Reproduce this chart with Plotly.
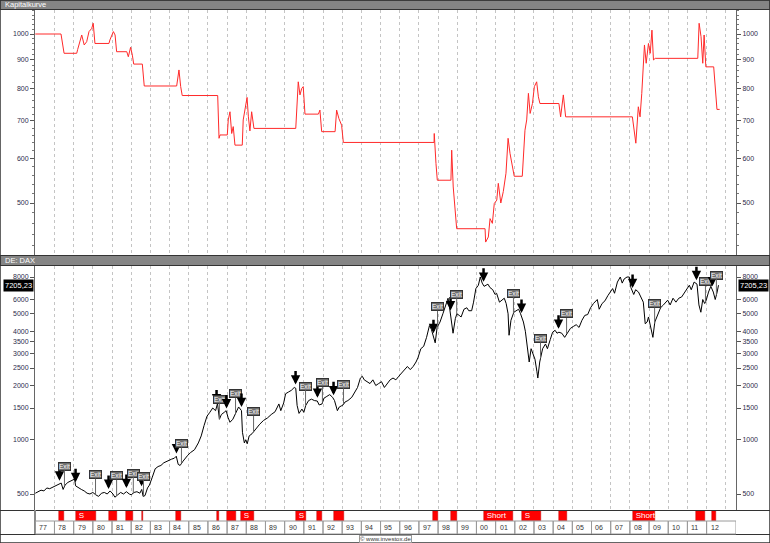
import numpy as np
import plotly.graph_objects as go

W, H = 770, 543

# ---------------- data ----------------
eq_t = [1977.00, 1978.34, 1978.50, 1979.16, 1979.21, 1979.42, 1979.55, 1979.68, 1979.80, 1979.94,
        1980.02, 1980.11, 1980.84, 1980.89, 1981.07, 1981.16, 1981.24, 1981.77, 1981.85, 1981.97,
        1982.06, 1982.13, 1982.58, 1982.68, 1984.37, 1984.49, 1984.58, 1984.66, 1986.51, 1986.58,
        1986.63, 1987.01, 1987.06, 1987.15, 1987.24, 1987.32, 1987.41, 1987.79, 1987.84, 1987.97,
        1988.04, 1988.11, 1988.19, 1988.28, 1988.40, 1990.58, 1990.64, 1990.71, 1990.80, 1990.89,
        1990.97, 1991.06, 1991.76, 1991.84, 1991.93, 1992.63, 1992.71, 1992.83, 1992.97, 1993.06,
        1997.79, 1997.80, 1997.89, 1997.96, 1998.67, 1998.71, 1998.79, 1998.88, 1998.97, 2000.45,
        2000.48, 2000.62, 2000.71, 2000.83, 2000.93, 2001.06, 2001.14, 2001.27, 2001.40, 2001.54,
        2001.65, 2001.75, 2001.87, 2001.97, 2002.39, 2002.44, 2002.53, 2002.62, 2002.71, 2002.80,
        2002.92, 2003.02, 2003.14, 2003.23, 2003.31, 2004.30, 2004.39, 2004.53, 2004.65, 2008.13,
        2008.18, 2008.31, 2008.44, 2008.53, 2008.62, 2008.76, 2008.85, 2008.97, 2009.06, 2009.15,
        2009.23, 2009.32, 2011.54, 2011.61, 2011.71, 2011.80, 2011.87, 2011.96, 2012.37, 2012.44,
        2012.54, 2012.68]
eq_v = [1000, 1000, 924, 924, 939, 996, 956, 969, 1010, 1023,
        1045, 962, 962, 976, 1010, 996, 930, 930, 911, 947,
        917, 884, 884, 808, 808, 863, 806, 777, 777, 652,
        661, 661, 703, 727, 665, 684, 634, 634, 703, 742,
        771, 712, 672, 727, 679, 679, 732, 822, 779, 800,
        806, 720, 720, 732, 670, 670, 732, 707, 688, 641,
        641, 665, 588, 549, 549, 621, 534, 479, 450, 450,
        426, 435, 469, 460, 499, 506, 542, 500, 524, 565,
        652, 613, 580, 558, 558, 605, 674, 703, 784, 722,
        752, 806, 822, 773, 752, 752, 712, 779, 712, 712,
        693, 639, 742, 712, 784, 956, 887, 962, 924, 1016,
        899, 905, 905, 1045, 989, 887, 996, 874, 874, 806,
        734, 734]

dax_t = [1977.00, 1977.15, 1977.30, 1977.45, 1977.60, 1977.75, 1977.90,
         1978.05, 1978.20, 1978.35, 1978.45, 1978.55, 1978.70, 1978.85, 1978.95,
         1979.05, 1979.10, 1979.25, 1979.40, 1979.55, 1979.70, 1979.85,
         1980.00, 1980.15, 1980.30, 1980.45, 1980.60, 1980.75, 1980.90,
         1981.05, 1981.15, 1981.30, 1981.45, 1981.60, 1981.75, 1981.90,
         1982.00, 1982.15, 1982.30, 1982.45, 1982.55, 1982.62, 1982.72, 1982.85, 1982.95,
         1983.10, 1983.25, 1983.40, 1983.55, 1983.70, 1983.85, 1983.95,
         1984.10, 1984.25, 1984.35, 1984.45, 1984.55, 1984.70, 1984.85, 1984.95,
         1985.10, 1985.30, 1985.50, 1985.65, 1985.80, 1985.95,
         1986.10, 1986.25, 1986.40, 1986.50, 1986.60, 1986.70, 1986.85, 1986.95,
         1987.05, 1987.15, 1987.30, 1987.45, 1987.60, 1987.75, 1987.80, 1987.90, 1987.97,
         1988.05, 1988.15, 1988.30, 1988.50, 1988.70, 1988.90,
         1989.10, 1989.30, 1989.50, 1989.70, 1989.80, 1989.95,
         1990.05, 1990.20, 1990.35, 1990.50, 1990.58, 1990.65, 1990.75, 1990.90,
         1991.00, 1991.10, 1991.25, 1991.40, 1991.55, 1991.70, 1991.80, 1991.95,
         1992.05, 1992.20, 1992.35, 1992.50, 1992.60, 1992.75, 1992.85, 1992.95,
         1993.05, 1993.15, 1993.30, 1993.50, 1993.65, 1993.80, 1993.95,
         1994.05, 1994.15, 1994.30, 1994.45, 1994.60, 1994.75, 1994.90,
         1995.05, 1995.20, 1995.35, 1995.50, 1995.65, 1995.80, 1995.95,
         1996.10, 1996.25, 1996.40, 1996.55, 1996.70, 1996.85, 1996.95,
         1997.10, 1997.25, 1997.40, 1997.55, 1997.65, 1997.80, 1997.85, 1997.95,
         1998.10, 1998.25, 1998.40, 1998.52, 1998.60, 1998.70, 1998.78, 1998.90, 1998.98,
         1999.10, 1999.20, 1999.35, 1999.50, 1999.60, 1999.75, 1999.85, 1999.97,
         2000.10, 2000.20, 2000.30, 2000.40, 2000.50, 2000.60, 2000.70, 2000.85, 2000.97,
         2001.05, 2001.20, 2001.30, 2001.45, 2001.55, 2001.65, 2001.70, 2001.80, 2001.95,
         2002.05, 2002.20, 2002.30, 2002.45, 2002.55, 2002.65, 2002.75, 2002.85, 2002.97,
         2003.05, 2003.15, 2003.20, 2003.30, 2003.45, 2003.60, 2003.70, 2003.85, 2003.97,
         2004.10, 2004.20, 2004.30, 2004.45, 2004.60, 2004.75, 2004.90,
         2005.05, 2005.20, 2005.35, 2005.50, 2005.65, 2005.80, 2005.95,
         2006.10, 2006.30, 2006.40, 2006.55, 2006.70, 2006.85, 2006.97,
         2007.10, 2007.20, 2007.35, 2007.50, 2007.60, 2007.70, 2007.85, 2007.97,
         2008.05, 2008.20, 2008.30, 2008.45, 2008.55, 2008.70, 2008.80, 2008.90, 2008.97,
         2009.05, 2009.15, 2009.20, 2009.30, 2009.45, 2009.60, 2009.75, 2009.97,
         2010.10, 2010.25, 2010.40, 2010.55, 2010.70, 2010.85, 2010.97,
         2011.10, 2011.20, 2011.35, 2011.50, 2011.60, 2011.70, 2011.80, 2011.90, 2011.97,
         2012.10, 2012.22, 2012.35, 2012.45, 2012.55, 2012.62]
dax_v = [505, 515, 525, 520, 540, 535, 545,
         550, 560, 575, 530, 560, 580, 590, 600,
         605, 555, 545, 530, 520, 505, 500,
         510, 495, 485, 505, 510, 500, 520,
         500, 480, 495, 510, 500, 515, 500,
         495, 510, 515, 505, 530, 485, 490, 540, 560,
         620, 690, 710, 720, 745, 760, 770,
         780, 790, 810, 730, 720, 760, 800, 820,
         850, 880, 960, 1050, 1200, 1350,
         1420, 1500, 1450, 1590, 1300, 1380, 1420, 1450,
         1330, 1250, 1300, 1400, 1520, 1450, 1100, 960, 1000,
         950, 1050, 1080, 1150, 1220, 1280,
         1320, 1380, 1430, 1580, 1450, 1600,
         1800, 1840, 1880, 1950, 1930, 1550, 1400, 1480,
         1420, 1550, 1650, 1680, 1650, 1640, 1560, 1580,
         1700, 1740, 1780, 1720, 1650, 1450, 1520, 1540,
         1560, 1620, 1650, 1720, 1850, 1950, 2200,
         2250, 2150, 2100, 2050, 2150, 2000, 2050,
         2100, 1950, 2050, 2150, 2200, 2150, 2250,
         2350, 2450, 2550, 2450, 2550, 2700, 2850,
         3200, 3300, 3700, 4300, 4100, 3600, 3450, 4200,
         4500, 5000, 5600, 6100, 5400, 4600, 3900, 4700, 5000,
         4900, 4800, 5300, 5400, 5200, 5200, 5800, 6900,
         7200, 8000, 7400, 7100, 7200, 7300, 7000, 6800, 6400,
         6500, 5800, 5900, 6100, 5700, 5000, 3800, 4600, 5100,
         5200, 5300, 5000, 4500, 4000, 3300, 2700, 3200, 2900,
         2800, 2400, 2200, 2700, 3200, 3400, 3200, 3600, 3950,
         4050, 3900, 3950, 3900, 3700, 3950, 4150,
         4250, 4350, 4200, 4600, 4900, 4950, 5400,
         5700, 6000, 5300, 5700, 5900, 6300, 6600,
         6900, 6500, 7500, 8000, 7400, 7800, 8000, 8000,
         7000, 6400, 6800, 6600, 6300, 5800, 4400, 4500, 4800,
         4400, 4000, 3700, 4500, 4900, 5400, 5600, 5950,
         5600, 6100, 5800, 6100, 6200, 6600, 6900,
         7200, 6800, 7500, 7300, 5600, 5100, 6000, 5700, 5900,
         6600, 7100, 6600, 6000, 6600, 7205.23]

trade_start = [1978.26, 1979.10, 1980.82, 1981.75, 1982.54, 1984.36, 1986.45, 1986.97, 1987.75,
               1990.57, 1991.71, 1992.55, 1997.76, 1998.65, 2000.37, 2002.35, 2004.28, 2008.14,
               2011.47, 2012.30]
trade_end = [1978.52, 1980.14, 1981.24, 1982.11, 1982.64, 1984.62, 1986.60, 1987.44, 1988.38,
             1991.09, 1991.97, 1993.07, 1997.97, 1998.97, 2001.93, 2003.34, 2004.70, 2009.29,
             2011.94, 2012.51]
trade_label = ["", "S", "", "", "", "", "", "", "S",
               "S", "", "", "", "", "Short", "S", "", "Short",
               "", ""]

years = list(range(1977, 2013))
year_labels = [f"{y % 100:02d}" for y in years]
eq_ticks = [500, 600, 700, 800, 900, 1000]
dax_ticks = [500, 1000, 1500, 2000, 2500, 3000, 3500, 4000, 5000, 6000, 8000]
last_value = dax_v[-1]

# ---------------- layout helpers ----------------
def px(x):
    return x / W

def py(y):
    return 1 - y / H

X0, X1 = 35, 736
xr = [1977 - 0.3 / 19.18, 1977 + (X1 - 35.3) / 19.18]
xdom = [px(X0), px(X1)]
FONT = "Liberation Sans, Arial, sans-serif"
TICKC = "#2c2c4c"

fig = go.Figure()
fig.add_trace(go.Scatter(x=eq_t, y=eq_v, mode="lines", line=dict(color="#ff2a2a", width=1),
                         xaxis="x", yaxis="y", hoverinfo="skip", showlegend=False))
fig.add_trace(go.Scatter(x=eq_t, y=eq_v, mode="lines", line=dict(color="rgba(0,0,0,0)", width=0),
                         xaxis="x", yaxis="y2", hoverinfo="skip", showlegend=False))
fig.add_trace(go.Scatter(x=dax_t, y=dax_v, mode="lines", line=dict(color="black", width=1),
                         xaxis="x2", yaxis="y3", hoverinfo="skip", showlegend=False))
fig.add_trace(go.Scatter(x=dax_t, y=dax_v, mode="lines", line=dict(color="rgba(0,0,0,0)", width=0),
                         xaxis="x2", yaxis="y4", hoverinfo="skip", showlegend=False))
dur = [e - s for s, e in zip(trade_start, trade_end)]
fig.add_trace(go.Bar(x=dur, base=trade_start, y=[0.5] * len(dur), orientation="h", width=1,
                     marker=dict(color="#ff0000", line=dict(color="#c00000", width=0.5)),
                     text=trade_label, textposition="inside", insidetextanchor="start",
                     textangle=0, constraintext="none",
                     textfont=dict(color="white", size=8, family=FONT),
                     xaxis="x3", yaxis="y5", hoverinfo="skip", showlegend=False))

eq_minor = [v for v in range(420, 1101, 20) if v not in eq_ticks]
yl_eq = [np.log10(404), np.log10(1103.5)]
yl_dax = [np.log10(500) - 16 / 180.2, np.log10(8000) + 11 / 180.2]

common_x = dict(domain=xdom, range=xr, showgrid=True, gridcolor="#c4c4c4", griddash="dot",
                gridwidth=1, tick0=1977, dtick=1, showticklabels=False, ticks="", zeroline=False,
                showline=False, fixedrange=True, automargin=False)
yax_common = dict(type="log", showgrid=False, zeroline=False, ticks="outside", ticklen=4,
                  tickcolor="#555", showline=True, linecolor="#666", linewidth=1,
                  tickfont=dict(size=7, color=TICKC, family=FONT), fixedrange=True,
                  automargin=False)

fig.update_layout(
    template="none",
    width=W, height=H, margin=dict(l=0, r=0, t=0, b=0, pad=0),
    paper_bgcolor="white", plot_bgcolor="white", showlegend=False,
    bargap=0,
    xaxis=dict(**common_x, anchor="y"),
    yaxis=dict(**yax_common, domain=[py(255), py(10)], range=yl_eq, side="left",
               tickmode="array", tickvals=eq_ticks, ticktext=[str(v) for v in eq_ticks],
               minor=dict(tickmode="array", tickvals=eq_minor, ticks="outside", ticklen=2,
                          tickcolor="#777")),
    yaxis2=dict(**yax_common, overlaying="y", side="right", anchor="x", range=yl_eq,
                tickmode="array", tickvals=eq_ticks, ticktext=[str(v) for v in eq_ticks],
                minor=dict(tickmode="array", tickvals=eq_minor, ticks="outside", ticklen=2,
                           tickcolor="#777")),
    xaxis2=dict(**common_x, anchor="y3"),
    yaxis3=dict(**yax_common, domain=[py(510), py(266)], range=yl_dax, side="left",
                anchor="x2", tickmode="array", tickvals=dax_ticks,
                ticktext=[str(v) for v in dax_ticks]),
    yaxis4=dict(**yax_common, overlaying="y3", side="right", anchor="x2", range=yl_dax,
                tickmode="array", tickvals=dax_ticks, ticktext=[str(v) for v in dax_ticks]),
    xaxis3=dict(domain=xdom, range=xr, showgrid=False, showticklabels=False, ticks="",
                zeroline=False, showline=False, anchor="y5", fixedrange=True, automargin=False),
    yaxis5=dict(domain=[py(521), py(511)], range=[0, 1], showgrid=False, showticklabels=False,
                ticks="", zeroline=False, showline=False, anchor="x3", fixedrange=True,
                automargin=False),
)

shapes = []
annotations = []

# header bars
for (y0, y1, label) in [(0, 9.5, "Kapitalkurve"), (255.5, 265.5, "DE: DAX")]:
    shapes.append(dict(type="rect", xref="paper", yref="paper", x0=0, x1=1, y0=py(y1), y1=py(y0),
                       fillcolor="#858585", line=dict(color="#333", width=1), layer="above"))
    annotations.append(dict(xref="paper", yref="paper", x=px(3), y=py((y0 + y1) / 2), text=label,
                            showarrow=False, xanchor="left", yanchor="middle",
                            font=dict(size=7.5, color="white", family=FONT)))

# horizontal separators
for yy in [510.5, 534.5]:
    shapes.append(dict(type="line", xref="paper", yref="paper", x0=0, x1=1, y0=py(yy), y1=py(yy),
                       line=dict(color="#333", width=1), layer="above"))
# strip frame
shapes.append(dict(type="line", xref="paper", yref="paper", x0=px(X0), x1=px(X0), y0=py(534), y1=py(510),
                   line=dict(color="#888", width=2)))

# year boxes
for y, lab in zip(years, year_labels):
    x1 = y + 1 if y != years[-1] else xr[1]
    shapes.append(dict(type="rect", xref="x3", yref="paper", x0=y, x1=x1, y0=py(534), y1=py(521),
                       line=dict(color="#9a9a9a", width=1), fillcolor="rgba(0,0,0,0)"))
    annotations.append(dict(xref="x3", yref="paper", x=y + 0.1, y=py(527.5), text=lab,
                            showarrow=False, xanchor="left", yanchor="middle",
                            font=dict(size=7, color="#333", family=FONT)))

# figure frame
shapes.append(dict(type="rect", xref="paper", yref="paper", x0=0, x1=1, y0=0, y1=1,
                   line=dict(color="#333", width=1.5)))

# last value boxes
for xx, anc in [(px(33.5), "right"), (px(737.5), "left")]:
    annotations.append(dict(xref="paper", yref="y3", x=xx, y=np.log10(last_value),
                            text=f"{last_value:.2f}".replace(".", ","), showarrow=False,
                            xanchor=anc, yanchor="middle", bgcolor="black", borderpad=1,
                            font=dict(size=7.5, color="white", family=FONT)))

# trade markers on DAX panel
ldax = np.log10(np.array(dax_v, dtype=float))
for s, e in zip(trade_start, trade_end):
    ys = float(np.interp(s, dax_t, ldax))
    ye = float(np.interp(e, dax_t, ldax))
    annotations.append(dict(xref="x2", yref="y3", x=s, y=ys + 0.02, text="", showarrow=True,
                            arrowhead=2, arrowsize=0.75, arrowwidth=2.5, arrowcolor="black",
                            ax=0, ay=-15))
    annotations.append(dict(xref="x2", yref="y3", x=e, y=ye, text="Exit", showarrow=True,
                            arrowhead=0, arrowwidth=1, arrowcolor="#666", ax=0, ay=-20,
                            bgcolor="#6f6f6f", bordercolor="#333", borderwidth=1, borderpad=0,
                            font=dict(size=6.5, color="white", family=FONT)))

# footer
annotations.append(dict(xref="paper", yref="paper", x=0.5, y=py(538.5), text="© www.investox.de",
                        showarrow=False, xanchor="center", yanchor="middle",
                        bgcolor="white", bordercolor="#999", borderwidth=1, borderpad=0,
                        font=dict(size=6, color="#333", family=FONT)))

fig.update_layout(shapes=shapes, annotations=annotations)
fig.write_html("out.html", config={"displayModeBar": False},
               post_script="document.body.style.margin='0';document.body.style.padding='0';"
                           "document.body.style.overflow='hidden';")
